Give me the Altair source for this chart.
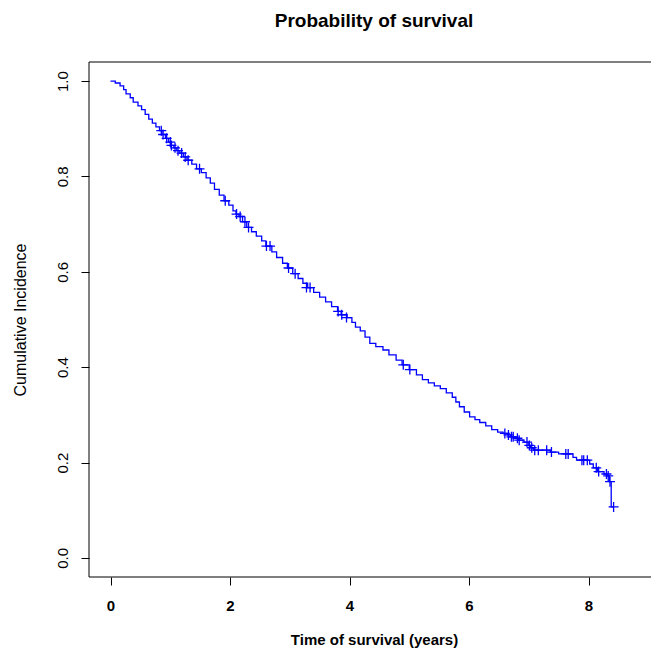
import altair as alt
import pandas as pd

# Kaplan-Meier step curve (time in years, survival probability)
event_time = [0.00, 0.08, 0.16, 0.22, 0.26, 0.33, 0.38, 0.46, 0.52, 0.58, 0.64, 0.70,
              0.76, 0.82, 0.86, 0.92, 0.97, 1.01, 1.06, 1.11, 1.16, 1.22, 1.28, 1.36,
              1.44, 1.52, 1.60, 1.67, 1.74, 1.82, 1.90, 1.98, 2.05, 2.10, 2.15, 2.21,
              2.28, 2.36, 2.44, 2.53, 2.60, 2.70, 2.78, 2.88, 2.96, 3.05, 3.14, 3.22,
              3.30, 3.40, 3.50, 3.60, 3.70, 3.80, 3.86, 3.96, 4.04, 4.10, 4.18, 4.26,
              4.34, 4.44, 4.56, 4.66, 4.78, 4.88, 5.00, 5.12, 5.22, 5.32, 5.42, 5.52,
              5.62, 5.72, 5.78, 5.84, 5.92, 6.01, 6.10, 6.18, 6.28, 6.38, 6.48, 6.57,
              6.64, 6.70, 6.78, 6.83, 6.92, 6.99, 7.03, 7.08, 7.36, 7.50, 7.74, 7.80,
              8.02, 8.08, 8.15, 8.26, 8.31, 8.35, 8.38, 8.42]
event_surv = [1.000, 0.996, 0.990, 0.982, 0.973, 0.965, 0.956, 0.948, 0.940, 0.930, 0.920, 0.912,
              0.904, 0.896, 0.888, 0.880, 0.872, 0.865, 0.860, 0.854, 0.849, 0.841, 0.834, 0.826,
              0.816, 0.808, 0.797, 0.786, 0.773, 0.761, 0.749, 0.740, 0.728, 0.721, 0.716, 0.705,
              0.693, 0.684, 0.675, 0.665, 0.654, 0.642, 0.630, 0.618, 0.608, 0.596, 0.586, 0.576,
              0.567, 0.557, 0.547, 0.537, 0.527, 0.517, 0.510, 0.504, 0.494, 0.484, 0.476, 0.463,
              0.450, 0.443, 0.436, 0.426, 0.415, 0.405, 0.395, 0.384, 0.374, 0.367, 0.361, 0.355,
              0.346, 0.337, 0.327, 0.317, 0.306, 0.296, 0.290, 0.284, 0.277, 0.269, 0.264, 0.261,
              0.258, 0.254, 0.251, 0.247, 0.243, 0.236, 0.231, 0.226, 0.222, 0.218, 0.211, 0.205,
              0.197, 0.189, 0.181, 0.176, 0.172, 0.160, 0.107, 0.107]

# Censoring marks (+)
censor_time = [0.85, 0.88, 0.94, 1.00, 1.02, 1.08, 1.13, 1.19, 1.25, 1.30, 1.49, 1.92,
               2.11, 2.17, 2.25, 2.31, 2.61, 2.67, 2.98, 3.09, 3.28, 3.34, 3.81, 3.87,
               3.95, 4.90, 5.01, 6.60, 6.66, 6.71, 6.74, 6.81, 6.84, 6.97, 7.01, 7.05,
               7.10, 7.16, 7.30, 7.38, 7.62, 7.66, 7.89, 7.92, 7.98, 8.13, 8.17, 8.30,
               8.33, 8.36, 8.42]
censor_surv = [0.896, 0.888, 0.880, 0.872, 0.865, 0.860, 0.854, 0.849, 0.841, 0.834, 0.816, 0.749,
               0.721, 0.716, 0.705, 0.693, 0.654, 0.654, 0.608, 0.596, 0.567, 0.567, 0.517, 0.510,
               0.504, 0.405, 0.395, 0.261, 0.258, 0.254, 0.254, 0.251, 0.247, 0.243, 0.236, 0.231,
               0.226, 0.226, 0.226, 0.222, 0.218, 0.218, 0.205, 0.205, 0.205, 0.189, 0.181, 0.176,
               0.172, 0.160, 0.107]

x_ticks = [0, 2, 4, 6, 8]
y_ticks = [0.0, 0.2, 0.4, 0.6, 0.8, 1.0]

line_df = pd.DataFrame({"time": event_time, "surv": event_surv})
cens_df = pd.DataFrame({"time": censor_time, "surv": censor_surv})

W, H = 562, 515
FONT = "Liberation Sans"
BLUE = "#0000ff"

xscale = alt.Scale(domain=[-0.36, 9.046], nice=False, zero=False)
yscale = alt.Scale(domain=[-0.04, 1.04], nice=False, zero=False)

xaxis = alt.Axis(
    title="Time of survival (years)", values=x_ticks, format="d", grid=False,
    domain=False, ticks=True, tickColor="black", tickSize=8, tickWidth=1,
    labelFont=FONT, labelFontWeight="bold", labelFontSize=15, labelColor="black",
    labelBaseline="middle", labelPadding=20, labelFlush=False, labelOverlap=False,
    titleFont=FONT, titleFontWeight="bold", titleFontSize=15, titleColor="black",
    titleX=285, titleY=62, titleAlign="center", titleBaseline="middle",
)
yaxis = alt.Axis(
    title="Cumulative Incidence", values=y_ticks, format=".1f", grid=False,
    domain=False, ticks=True, tickColor="black", tickSize=8, tickWidth=1,
    labelFont=FONT, labelFontSize=15, labelColor="black", labelAngle=270,
    labelAlign="center", labelBaseline="middle", labelPadding=19,
    labelFlush=False, labelOverlap=False,
    titleFont=FONT, titleFontWeight="normal", titleFontSize=16, titleColor="black",
    titleAngle=270, titleX=-69, titleY=H / 2, titleAlign="center", titleBaseline="middle",
)

line = alt.Chart(line_df).mark_line(
    interpolate="step-after", color=BLUE, strokeWidth=1.3, clip=True
).encode(
    x=alt.X("time:Q", scale=xscale, axis=xaxis),
    y=alt.Y("surv:Q", scale=yscale, axis=yaxis),
)

marks = alt.Chart(cens_df).mark_point(
    shape="M-1,0L1,0M0,-1L0,1", size=100, color=BLUE, filled=False,
    strokeWidth=1.3, opacity=1,
).encode(
    x=alt.X("time:Q", scale=xscale),
    y=alt.Y("surv:Q", scale=yscale),
)

# plot frame: top, bottom and left sides (the right side lies beyond the picture)
frame_df = pd.DataFrame({"k": [0]})
top_edge = alt.Chart(frame_df).mark_rule(color="black", strokeWidth=1).encode(
    x=alt.value(0), x2=alt.value(W), y=alt.value(0))
bottom_edge = alt.Chart(frame_df).mark_rule(color="black", strokeWidth=1).encode(
    x=alt.value(0), x2=alt.value(W), y=alt.value(H))
left_edge = alt.Chart(frame_df).mark_rule(color="black", strokeWidth=1).encode(
    x=alt.value(0), y=alt.value(0), y2=alt.value(H))

chart = alt.layer(line, marks, top_edge, bottom_edge, left_edge).properties(
    width=W,
    height=H,
    padding={"left": 81, "top": 54, "right": 0, "bottom": 73},
    autosize=alt.AutoSizeParams(type="none"),
    title=alt.TitleParams(
        "Probability of survival", font=FONT, fontSize=19, fontWeight="bold",
        color="black", anchor="middle", frame="group", baseline="alphabetic",
        offset=16, dx=4,
    ),
).configure(background="white").configure_view(stroke=None)

chart.save("out.html", embed_options={"renderer": "svg", "actions": False})
